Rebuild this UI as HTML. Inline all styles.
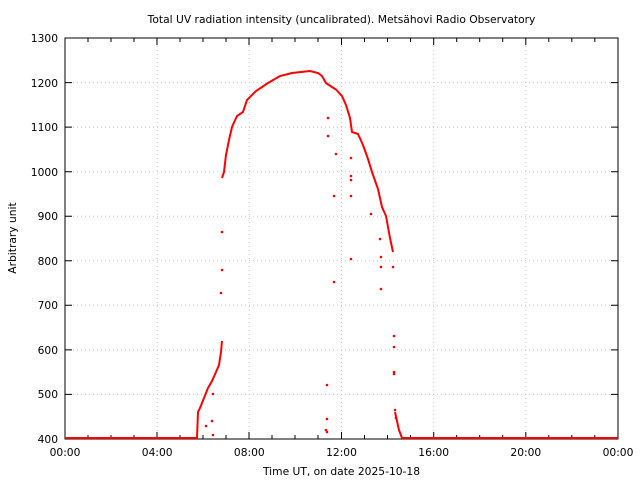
<!DOCTYPE html>
<html><head><meta charset="utf-8"><style>body{margin:0;background:#fff}svg{display:block}text{font-family:"DejaVu Sans","Liberation Sans",sans-serif;font-size:10.7px;fill:#000}</style></head><body>
<svg width="640" height="480" xmlns="http://www.w3.org/2000/svg">
<rect width="640" height="480" fill="#fff"/>
<g stroke="#c8c8c8" stroke-dasharray="1,3" stroke-width="1">
<line x1="65" y1="394.4" x2="618" y2="394.4"/><line x1="65" y1="349.9" x2="618" y2="349.9"/><line x1="65" y1="305.3" x2="618" y2="305.3"/><line x1="65" y1="260.8" x2="618" y2="260.8"/><line x1="65" y1="216.2" x2="618" y2="216.2"/><line x1="65" y1="171.7" x2="618" y2="171.7"/><line x1="65" y1="127.1" x2="618" y2="127.1"/><line x1="65" y1="82.6" x2="618" y2="82.6"/>
<line x1="157.2" y1="38" x2="157.2" y2="439"/><line x1="249.3" y1="38" x2="249.3" y2="439"/><line x1="341.5" y1="38" x2="341.5" y2="439"/><line x1="433.7" y1="38" x2="433.7" y2="439"/><line x1="525.8" y1="38" x2="525.8" y2="439"/>
</g>
<g stroke="#000" stroke-width="1">
<path d="M65,38V439H618V38Z" fill="none"/>
<path d="M88,439v-4M111,439v-4M134,439v-4M157,439v-7M180,439v-4M203,439v-4M226,439v-4M249,439v-7M272,439v-4M295,439v-4M318,439v-4M341.5,439v-7M364.5,439v-4M387.5,439v-4M410.5,439v-4M433.7,439v-7M456.7,439v-4M479.7,439v-4M502.7,439v-4M525.8,439v-7M548.8,439v-4M571.8,439v-4M594.8,439v-4"/>
<path d="M88,38v4M111,38v4M134,38v4M157,38v7M180,38v4M203,38v4M226,38v4M249,38v7M272,38v4M295,38v4M318,38v4M341.5,38v7M364.5,38v4M387.5,38v4M410.5,38v4M433.7,38v7M456.7,38v4M479.7,38v4M502.7,38v4M525.8,38v7M548.8,38v4M571.8,38v4M594.8,38v4"/>
<path d="M65,394.4h7M65,349.9h7M65,305.3h7M65,260.8h7M65,216.2h7M65,171.7h7M65,127.1h7M65,82.6h7M618,394.4h-7M618,349.9h-7M618,305.3h-7M618,260.8h-7M618,216.2h-7M618,171.7h-7M618,127.1h-7M618,82.6h-7"/>
</g>
<g text-anchor="end">
<text x="58" y="443">400</text><text x="58" y="398">500</text><text x="58" y="354">600</text><text x="58" y="309">700</text><text x="58" y="265">800</text><text x="58" y="220">900</text><text x="58" y="176">1000</text><text x="58" y="131">1100</text><text x="58" y="87">1200</text><text x="58" y="42">1300</text>
</g>
<g text-anchor="middle">
<text x="65" y="456">00:00</text><text x="157.2" y="456">04:00</text><text x="249.3" y="456">08:00</text><text x="341.5" y="456">12:00</text><text x="433.7" y="456">16:00</text><text x="525.8" y="456">20:00</text><text x="618" y="456">00:00</text>
<text x="341.5" y="475">Time UT, on date 2025-10-18</text>
<text x="341.5" y="23">Total UV radiation intensity (uncalibrated). Metsähovi Radio Observatory</text>
<text transform="translate(16,238) rotate(-90)">Arbitrary unit</text>
</g>
<g fill="none" stroke="#f00" stroke-width="2">
<polyline points="65,438 197,438 198,412 200,408 204,398 208,388 212,381 216,372 219,365 221,352 222,341"/>
<polyline points="222,178 224,172 226,155 229,140 232,127 237,116 243,112 247,100 256,91 268,83 280,76 292,73 310,71 318,73 322,76 326,83 332,87 336,89.5 342,96 346,105 350,118 352,132 358,134 363,145 368,159 372,172 378,189 382,207 386,216 390,238 393,252"/>
<polyline points="395,412 399,430 402,438 618,438"/>
</g>
<g fill="#f00">
<circle cx="222" cy="232" r="1.3"/><circle cx="222" cy="270" r="1.3"/><circle cx="221" cy="293" r="1.3"/><circle cx="213" cy="435" r="1.3"/><circle cx="212" cy="421" r="1.3"/><circle cx="213" cy="394" r="1.3"/><circle cx="206" cy="426" r="1.3"/><circle cx="327" cy="385" r="1.3"/><circle cx="327" cy="419" r="1.3"/><circle cx="326" cy="430" r="1.3"/><circle cx="327" cy="432" r="1.3"/><circle cx="328" cy="136" r="1.3"/><circle cx="328" cy="118" r="1.3"/><circle cx="334" cy="196" r="1.3"/><circle cx="334" cy="282" r="1.3"/><circle cx="336" cy="154" r="1.3"/><circle cx="351" cy="158" r="1.3"/><circle cx="351" cy="176" r="1.3"/><circle cx="351" cy="180" r="1.3"/><circle cx="351" cy="196" r="1.3"/><circle cx="351" cy="259" r="1.3"/><circle cx="371" cy="214" r="1.3"/><circle cx="380" cy="239" r="1.3"/><circle cx="381" cy="257" r="1.3"/><circle cx="381" cy="267" r="1.3"/><circle cx="381" cy="289" r="1.3"/><circle cx="393" cy="267" r="1.3"/><circle cx="394" cy="336" r="1.3"/><circle cx="394" cy="347" r="1.3"/><circle cx="394" cy="372" r="1.3"/><circle cx="394" cy="374" r="1.3"/><circle cx="395" cy="410" r="1.3"/><circle cx="396" cy="418" r="1.3"/>
</g>
</svg>
</body></html>
